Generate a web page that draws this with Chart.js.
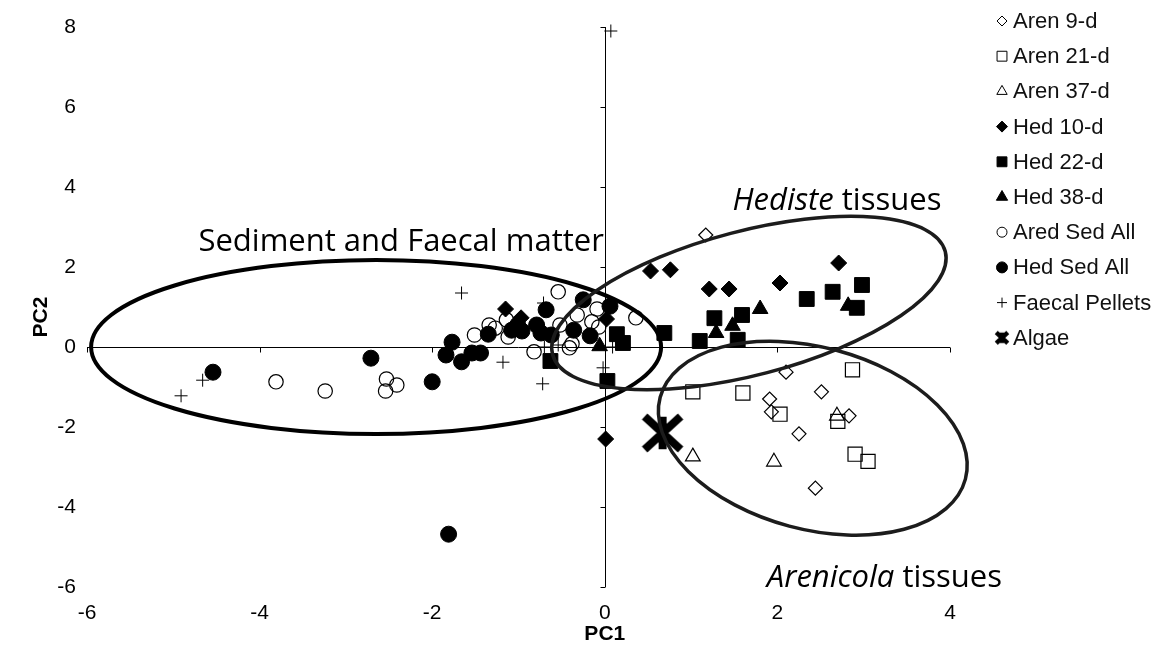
<!DOCTYPE html>
<html>
<head>
<meta charset="utf-8">
<script src="https://cdn.jsdelivr.net/npm/chart.js@4.4.1/dist/chart.umd.min.js"></script>
<style>
    html, body { margin: 0; padding: 0; background: #fff; }
</style>
</head>
<body>
<canvas id="pca" width="1161" height="664"></canvas>
<script>
// tick values
var xTicks = [-6, -4, -2, 0, 2, 4];
var yTicks = [-6, -4, -2, 0, 2, 4, 6, 8];

// PC1 / PC2 scores
var aren9 = [[1.17, 2.80], [2.10, -0.63], [2.51, -1.12], [1.91, -1.30], [1.93, -1.62], [2.25, -2.17], [2.83, -1.72], [2.44, -3.53]];
var aren21 = [[1.02, -1.12], [1.60, -1.15], [2.03, -1.68], [2.87, -0.57], [2.70, -1.86], [2.90, -2.68], [3.05, -2.86]];
var aren37 = [[1.02, -2.74], [1.96, -2.87], [2.69, -1.72]];
var hed10 = [[-1.15, 0.95], [-0.97, 0.73], [0.02, 0.70], [0.01, -2.30], [0.53, 1.90], [0.76, 1.93], [1.21, 1.45], [1.44, 1.45], [2.03, 1.60], [2.71, 2.10]];
var hed22 = [[-0.63, -0.35], [0.03, -0.85], [0.14, 0.32], [0.21, 0.10], [0.69, 0.35], [1.10, 0.15], [1.27, 0.72], [1.59, 0.80], [1.54, 0.18], [2.34, 1.20], [2.64, 1.38], [2.98, 1.55], [2.92, 0.98]];
var hed38 = [[-0.06, 0.02], [1.29, 0.35], [1.48, 0.53], [1.80, 0.95], [2.82, 1.03]];
var aredSed = [[-3.81, -0.87], [-3.24, -1.10], [-2.53, -0.80], [-2.41, -0.95], [-2.54, -1.10], [-1.51, 0.30], [-1.34, 0.55], [-1.27, 0.47], [-1.14, 0.68], [-1.12, 0.25],
    [-0.54, 1.38], [-0.82, -0.12], [-0.52, 0.55], [-0.32, 0.80], [-0.09, 0.95], [-0.15, 0.63], [-0.07, 0.50], [-0.41, -0.02], [-0.38, 0.08], [0.36, 0.73]];
var hedSed = [[-4.54, -0.63], [-2.71, -0.28], [-2.00, -0.87], [-1.81, -4.68], [-1.77, 0.12], [-1.84, -0.20], [-1.66, -0.37], [-1.54, -0.15], [-1.44, -0.15], [-1.35, 0.32],
    [-1.08, 0.42], [-0.96, 0.40], [-1.01, 0.55], [-0.79, 0.55], [-0.74, 0.35], [-0.68, 0.93], [-0.62, 0.30], [-0.36, 0.42], [-0.25, 1.18], [-0.17, 0.28], [0.06, 1.02]];
var faecal = [[0.07, 7.90], [-1.66, 1.35], [-1.18, -0.38], [-0.71, 1.10], [-0.72, -0.92], [-0.70, 0.00], [-0.54, 0.05], [-0.02, -0.52], [0.09, 0.00], [-4.66, -0.83], [-4.91, -1.22]];
var algae = [[0.67, -2.15]];

// hand drawn groupings (centre in PC units, radii in px, angle in degrees)
var ellipses = [
    {cx: -2.65, cy: 0.0, rx: 285, ry: 87, rot: 0, color: '#000', lw: 4},
    {cx: 1.67, cy: 1.10, rx: 203, ry: 72, rot: -14.7, color: '#1c1c1c', lw: 3.5},
    {cx: 2.41, cy: -2.28, rx: 158, ry: 91, rot: 15, color: '#1c1c1c', lw: 3.5}
];
var notes = [
    {x: -2.36, y: 2.62, parts: [['Sediment and Faecal matter', false]]},
    {x: 2.69, y: 3.65, parts: [['Hediste', true], [' tissues', false]]},
    {x: 3.24, y: -5.78, parts: [['Arenicola', true], [' tissues', false]]}
];

function toPoints(arr) {
    return arr.map(function (p) { return {x: p[0], y: p[1]}; });
}

function starMarker(size, lw) {
    var c = document.createElement('canvas');
    c.width = size; c.height = size;
    var g = c.getContext('2d');
    var h = size / 2, d = size / 2 - lw / 2 - 1;
    g.strokeStyle = '#000';
    g.lineWidth = lw;
    g.beginPath();
    g.moveTo(h - d, h - d * 0.92); g.lineTo(h + d, h + d * 0.92);
    g.moveTo(h + d, h - d * 0.92); g.lineTo(h - d, h + d * 0.92);
    g.moveTo(h, h - d * 0.9); g.lineTo(h, h + d * 0.9);
    g.stroke();
    return c;
}
var algaeBig = starMarker(46, 8);
var algaeSmall = starMarker(18, 4.5);

var hollow = 'rgba(0,0,0,0)';
var datasets = [
    {label: 'Aren 9-d', data: toPoints(aren9), pointStyle: 'rectRot', pointRadius: 7, backgroundColor: hollow, borderWidth: 1.2, legendR: 5},
    {label: 'Aren 21-d', data: toPoints(aren21), pointStyle: 'rect', pointRadius: 10, backgroundColor: hollow, borderWidth: 1.2, legendR: 7},
    {label: 'Aren 37-d', data: toPoints(aren37), pointStyle: 'triangle', pointRadius: 8.5, backgroundColor: hollow, borderWidth: 1.2, legendR: 6},
    {label: 'Hed 10-d', data: toPoints(hed10), pointStyle: 'rectRot', pointRadius: 8, backgroundColor: '#000', borderWidth: 1, legendR: 5.5},
    {label: 'Hed 22-d', data: toPoints(hed22), pointStyle: 'rect', pointRadius: 10.5, backgroundColor: '#000', borderWidth: 1, legendR: 7},
    {label: 'Hed 38-d', data: toPoints(hed38), pointStyle: 'triangle', pointRadius: 9, backgroundColor: '#000', borderWidth: 1, legendR: 6.5},
    {label: 'Ared Sed All', data: toPoints(aredSed), pointStyle: 'circle', pointRadius: 7.2, backgroundColor: hollow, borderWidth: 1.2, legendR: 5},
    {label: 'Hed Sed All', data: toPoints(hedSed), pointStyle: 'circle', pointRadius: 8, backgroundColor: '#000', borderWidth: 1, legendR: 5.5},
    {label: 'Faecal Pellets', data: toPoints(faecal), pointStyle: 'cross', pointRadius: 6.5, backgroundColor: hollow, borderWidth: 1, legendR: 5},
    {label: 'Algae', data: toPoints(algae), pointStyle: algaeBig, pointRadius: 20, backgroundColor: '#000', borderWidth: 1, legendIcon: algaeSmall}
];
datasets.forEach(function (d) {
    d.borderColor = '#000';
    d.pointHoverRadius = d.pointRadius;
    d.clip = false;
});

// axes through the origin, with outward ticks
var axisLines = {
    id: 'axisLines',
    beforeDatasetsDraw: function (chart) {
        var ctx = chart.ctx, xs = chart.scales.x, ys = chart.scales.y;
        var x0 = Math.round(xs.getPixelForValue(0)) + 0.5;
        var y0 = Math.round(ys.getPixelForValue(0)) + 0.5;
        ctx.save();
        ctx.strokeStyle = '#000';
        ctx.lineWidth = 1;
        ctx.beginPath();
        ctx.moveTo(xs.left, y0); ctx.lineTo(xs.right, y0);
        ctx.moveTo(x0, ys.top); ctx.lineTo(x0, ys.bottom);
        xTicks.forEach(function (v) {
            var p = Math.round(xs.getPixelForValue(v)) + 0.5;
            ctx.moveTo(p, y0); ctx.lineTo(p, y0 + 5);
        });
        yTicks.forEach(function (v) {
            var p = Math.round(ys.getPixelForValue(v)) + 0.5;
            ctx.moveTo(x0 - 5, p); ctx.lineTo(x0, p);
        });
        ctx.stroke();
        ctx.restore();
    }
};

var overlay = {
    id: 'overlay',
    afterDatasetsDraw: function (chart) {
        var ctx = chart.ctx, xs = chart.scales.x, ys = chart.scales.y;
        ctx.save();
        // ellipses
        ellipses.forEach(function (e) {
            ctx.beginPath();
            ctx.ellipse(xs.getPixelForValue(e.cx), ys.getPixelForValue(e.cy), e.rx, e.ry, e.rot * Math.PI / 180, 0, Math.PI * 2);
            ctx.strokeStyle = e.color;
            ctx.lineWidth = e.lw;
            ctx.stroke();
        });
        // group labels
        ctx.fillStyle = '#000';
        ctx.textBaseline = 'middle';
        ctx.textAlign = 'left';
        notes.forEach(function (n) {
            var fonts = n.parts.map(function (p) { return (p[1] ? 'italic ' : '') + '31px "Open Sans"'; });
            var total = 0;
            n.parts.forEach(function (p, i) { ctx.font = fonts[i]; total += ctx.measureText(p[0]).width; });
            var x = xs.getPixelForValue(n.x) - total / 2, y = ys.getPixelForValue(n.y);
            n.parts.forEach(function (p, i) {
                ctx.font = fonts[i];
                ctx.fillText(p[0], x, y);
                x += ctx.measureText(p[0]).width;
            });
        });
        // axis titles
        ctx.font = 'bold 21px "Liberation Sans", Arial, sans-serif';
        ctx.textAlign = 'center';
        ctx.fillText('PC1', xs.getPixelForValue(0), 634);
        ctx.translate(41, 317);
        ctx.rotate(-Math.PI / 2);
        ctx.fillText('PC2', 0, 0);
        ctx.restore();
    },
    afterDraw: function (chart) {
        // legend
        var ctx = chart.ctx;
        ctx.save();
        ctx.font = '22px "Liberation Sans", Arial, sans-serif';
        ctx.textBaseline = 'middle';
        ctx.textAlign = 'left';
        chart.data.datasets.forEach(function (d, i) {
            var y = 21 + i * 35.2;
            ctx.fillStyle = d.backgroundColor;
            ctx.strokeStyle = '#000';
            ctx.lineWidth = 1;
            Chart.helpers.drawPoint(ctx, {
                pointStyle: d.legendIcon || d.pointStyle,
                radius: d.legendR || 5,
                rotation: 0,
                borderWidth: 1
            }, 1002, y);
            ctx.fillStyle = '#111';
            ctx.fillText(d.label, 1013, y + 1);
        });
        ctx.restore();
    }
};

var tickFont = {family: '"Liberation Sans", Arial, sans-serif', size: 21};

new Chart(document.getElementById('pca').getContext('2d'), {
    type: 'scatter',
    data: {datasets: datasets},
    options: {
        responsive: false,
        animation: false,
        devicePixelRatio: 1,
        layout: {padding: {top: 27, right: 211, bottom: 0, left: 0}},
        plugins: {legend: {display: false}, tooltip: {enabled: false}},
        scales: {
            x: {
                type: 'linear', min: -6, max: 4,
                grid: {display: false, drawTicks: false},
                border: {display: false},
                afterBuildTicks: function (s) { s.ticks = xTicks.map(function (v) { return {value: v}; }); },
                afterFit: function (s) { s.height = 77; },
                ticks: {font: tickFont, color: '#000', padding: 14, maxRotation: 0, autoSkip: false}
            },
            y: {
                type: 'linear', min: -6, max: 8,
                grid: {display: false, drawTicks: false},
                border: {display: false},
                afterBuildTicks: function (s) { s.ticks = yTicks.map(function (v) { return {value: v}; }); },
                afterFit: function (s) { s.width = 87; },
                ticks: {font: tickFont, color: '#000', padding: 11, autoSkip: false}
            }
        }
    },
    plugins: [axisLines, overlay]
});
</script>
</body>
</html>
